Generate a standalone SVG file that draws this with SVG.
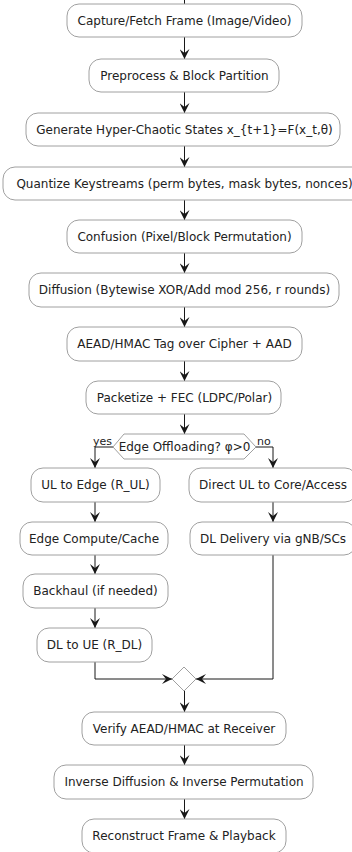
<svg xmlns="http://www.w3.org/2000/svg" width="352" height="852" viewBox="0 0 352 852">
<defs>
<style>
.n rect{fill:#fff;stroke:#a0a0a0;stroke-width:1}
.n polygon{fill:#fff;stroke:#a0a0a0;stroke-width:1}
text{font-family:"DejaVu Sans",sans-serif;font-size:12px;fill:#222;text-anchor:middle;dominant-baseline:central}
.c line,.c polyline{stroke:#181818;stroke-width:1;fill:none}
.lbl{font-size:11px;text-anchor:start}
</style>
<marker id="ah" viewBox="0 0 10 10" refX="10" refY="5" markerWidth="10" markerHeight="10" markerUnits="userSpaceOnUse" orient="auto">
<polygon points="0,0 10,5 0,10 4,5" fill="#181818"/>
</marker>
</defs>
<rect width="352" height="852" fill="#fff"/>
<g class="c">
<line x1="184.5" y1="0" x2="184.5" y2="4"/>
<line x1="184.5" y1="37" x2="184.5" y2="59" marker-end="url(#ah)"/>
<line x1="184.5" y1="92" x2="184.5" y2="113" marker-end="url(#ah)"/>
<line x1="184.5" y1="146" x2="184.5" y2="167" marker-end="url(#ah)"/>
<line x1="184.5" y1="200" x2="184.5" y2="220" marker-end="url(#ah)"/>
<line x1="184.5" y1="253" x2="184.5" y2="273" marker-end="url(#ah)"/>
<line x1="184.5" y1="307" x2="184.5" y2="327" marker-end="url(#ah)"/>
<line x1="184.5" y1="361" x2="184.5" y2="381" marker-end="url(#ah)"/>
<line x1="184.5" y1="414" x2="184.5" y2="434" marker-end="url(#ah)"/>
<polyline points="113,447 95,447 95,468" marker-end="url(#ah)"/>
<polyline points="256,447 273,447 273,468" marker-end="url(#ah)"/>
<line x1="95" y1="502" x2="95" y2="522" marker-end="url(#ah)"/>
<line x1="273" y1="502" x2="273" y2="522" marker-end="url(#ah)"/>
<line x1="95" y1="555" x2="95" y2="574" marker-end="url(#ah)"/>
<line x1="95" y1="608" x2="95" y2="628" marker-end="url(#ah)"/>
<polyline points="95,662 95,679 172,679" marker-end="url(#ah)"/>
<polyline points="273,555 273,679 196,679" marker-end="url(#ah)"/>
<line x1="184.5" y1="691" x2="184.5" y2="712" marker-end="url(#ah)"/>
<line x1="184.5" y1="745" x2="184.5" y2="765" marker-end="url(#ah)"/>
<line x1="184.5" y1="799" x2="184.5" y2="819" marker-end="url(#ah)"/>
</g>
<g id="capture" class="n"><rect x="67" y="4" width="235" height="33" rx="12"/><text x="184.5" y="20.5">Capture/Fetch Frame (Image/Video)</text></g>
<g id="preprocess" class="n"><rect x="89" y="59" width="190" height="33" rx="12"/><text x="184.5" y="75.5">Preprocess &amp; Block Partition</text></g>
<g id="generate" class="n"><rect x="26" y="113" width="314" height="33" rx="12"/><text x="184.5" y="129.5">Generate Hyper-Chaotic States x_{t+1}=F(x_t,θ)</text></g>
<g id="quantize" class="n"><rect x="3" y="167" width="363" height="33" rx="12"/><text x="184.5" y="183.5">Quantize Keystreams (perm bytes, mask bytes, nonces)</text></g>
<g id="confusion" class="n"><rect x="67" y="220" width="235" height="33" rx="12"/><text x="184.5" y="236.5">Confusion (Pixel/Block Permutation)</text></g>
<g id="diffusion" class="n"><rect x="29" y="273" width="310" height="34" rx="12"/><text x="184.5" y="290">Diffusion (Bytewise XOR/Add mod 256, r rounds)</text></g>
<g id="aead" class="n"><rect x="67" y="327" width="235" height="34" rx="12"/><text x="184.5" y="344">AEAD/HMAC Tag over Cipher + AAD</text></g>
<g id="packetize" class="n"><rect x="86" y="381" width="195" height="33" rx="12"/><text x="184.5" y="397.5">Packetize + FEC (LDPC/Polar)</text></g>
<g id="decision" class="n"><polygon points="113,447 124,434 244,434 256,447 244,459 124,459"/><text x="184.5" y="447">Edge Offloading? φ&gt;0</text><text class="lbl" x="93" y="441">yes</text><text class="lbl" x="257" y="441">no</text></g>
<g id="ul_edge" class="n"><rect x="31" y="468" width="129" height="34" rx="12"/><text x="95.5" y="485">UL to Edge (R_UL)</text></g>
<g id="direct_ul" class="n"><rect x="189" y="468" width="168" height="34" rx="12"/><text x="273" y="485">Direct UL to Core/Access</text></g>
<g id="edge_compute" class="n"><rect x="20" y="522" width="148" height="33" rx="12"/><text x="94" y="538.5">Edge Compute/Cache</text></g>
<g id="dl_delivery" class="n"><rect x="190" y="522" width="166" height="33" rx="12"/><text x="273" y="538.5">DL Delivery via gNB/SCs</text></g>
<g id="backhaul" class="n"><rect x="23" y="574" width="145" height="34" rx="12"/><text x="95.5" y="591">Backhaul (if needed)</text></g>
<g id="dl_ue" class="n"><rect x="37" y="628" width="115" height="34" rx="12"/><text x="94.5" y="645">DL to UE (R_DL)</text></g>
<g id="merge" class="n"><polygon points="184,667 196,679 184,691 172,679"/></g>
<g id="verify" class="n"><rect x="82" y="712" width="204" height="33" rx="12"/><text x="184" y="728.5">Verify AEAD/HMAC at Receiver</text></g>
<g id="inverse" class="n"><rect x="54" y="765" width="259" height="34" rx="12"/><text x="184" y="782">Inverse Diffusion &amp; Inverse Permutation</text></g>
<g id="reconstruct" class="n"><rect x="82" y="819" width="204" height="34" rx="12"/><text x="184" y="836">Reconstruct Frame &amp; Playback</text></g>
</svg>
